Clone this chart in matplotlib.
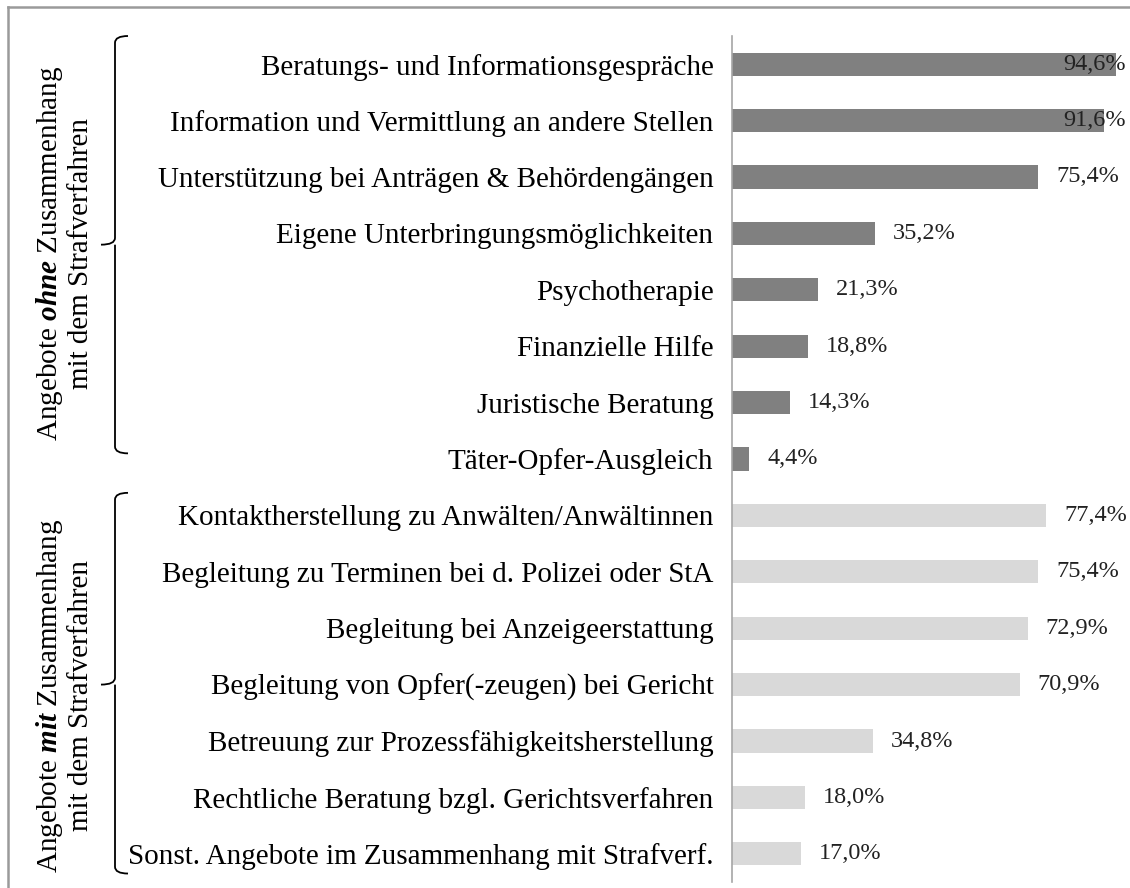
import numpy as np
import matplotlib.pyplot as plt
from matplotlib import transforms
from matplotlib.lines import Line2D
from matplotlib.path import Path
from matplotlib.patches import PathPatch

categories = [
    "Beratungs- und Informationsgespräche",
    "Information und Vermittlung an andere Stellen",
    "Unterstützung bei Anträgen & Behördengängen",
    "Eigene Unterbringungsmöglichkeiten",
    "Psychotherapie",
    "Finanzielle Hilfe",
    "Juristische Beratung",
    "Täter-Opfer-Ausgleich",
    "Kontaktherstellung zu Anwälten/Anwältinnen",
    "Begleitung zu Terminen bei d. Polizei oder StA",
    "Begleitung bei Anzeigeerstattung",
    "Begleitung von Opfer(-zeugen) bei Gericht",
    "Betreuung zur Prozessfähigkeitsherstellung",
    "Rechtliche Beratung bzgl. Gerichtsverfahren",
    "Sonst. Angebote im Zusammenhang mit Strafverf.",
]
values = [94.6, 91.6, 75.4, 35.2, 21.3, 18.8, 14.3, 4.4,
          77.4, 75.4, 72.9, 70.9, 34.8, 18.0, 17.0]
groups = [0] * 8 + [1] * 7
group_labels = [
    "Angebote $\\mathbfit{ohne}$ Zusammenhang\nmit dem Strafverfahren",
    "Angebote $\\mathbfit{mit}$ Zusammenhang\nmit dem Strafverfahren",
]
group_colors = ["#808080", "#d9d9d9"]

plt.rcParams["font.family"] = ["Liberation Serif", "DejaVu Serif"]
plt.rcParams["mathtext.fontset"] = "custom"
plt.rcParams["mathtext.rm"] = "Liberation Serif"
plt.rcParams["mathtext.it"] = "Liberation Serif:italic"
plt.rcParams["mathtext.bf"] = "Liberation Serif:bold"
plt.rcParams["mathtext.bfit"] = "Liberation Serif:italic:bold"

W, H = 1130, 888
fig = plt.figure(figsize=(W / 100, H / 100), dpi=100)
ax = fig.add_axes([731.5 / W, 6 / H, (W - 731.5) / W, (882 - 36) / H])

y = np.arange(len(categories))
colors = [group_colors[g] for g in groups]
ax.barh(y, values, height=0.41, color=colors)
ax.set_ylim(len(categories) - 0.5, -0.5)
ax.set_xlim(0, 98)

ax.set_yticks(y)
ax.set_yticklabels(categories, fontsize=21)
ax.tick_params(axis="y", length=0, pad=13)
ax.set_xticks([])
for s in ["top", "right", "bottom"]:
    ax.spines[s].set_visible(False)
ax.spines["left"].set_color("#a6a6a6")
ax.spines["left"].set_linewidth(1.2)

for yi, v in zip(y, values):
    txt = f"{v:.1f}%".replace(".", ",")
    if v > 90:
        ax.text(96.9, yi, txt, ha="right", va="center", fontsize=17.5, color="#222222")
    else:
        ax.text(v + 4.4, yi, txt, ha="left", va="center", fontsize=17.5, color="#222222")

# braces and group labels (x in figure fraction, y in data rows)
tr = transforms.blended_transform_factory(fig.transFigure, ax.transData)


def brace(y0, y1, ym):
    xv, xr, xl = 115 / W, 128 / W, 101 / W
    r = 0.12
    verts = [
        (xr, y0), (xv, y0), (xv, y0 + r),
        (xv, ym - r), (xv, ym), (xl, ym),
        (xv, ym), (xv, ym + r),
        (xv, y1 - r), (xv, y1), (xr, y1),
    ]
    codes = [Path.MOVETO, Path.CURVE3, Path.CURVE3,
             Path.LINETO, Path.CURVE3, Path.CURVE3,
             Path.MOVETO, Path.LINETO,
             Path.LINETO, Path.CURVE3, Path.CURVE3]
    p = PathPatch(Path(verts, codes), transform=tr, fill=False, lw=1.3,
                  color="black", clip_on=False)
    fig.add_artist(p)


brace(-0.5, 6.9, 3.2)
brace(7.6, 14.35, 11.0)

fig.text(64 / W, 3.35, group_labels[0], transform=tr, rotation=90,
         ha="center", va="center", multialignment="center", fontsize=21,
         linespacing=1.15)
fig.text(64 / W, 11.2, group_labels[1], transform=tr, rotation=90,
         ha="center", va="center", multialignment="center", fontsize=21,
         linespacing=1.15)

# outer frame (top and left edge visible)
fig.add_artist(Line2D([8 / W, 1], [1 - 7 / H, 1 - 7 / H], transform=fig.transFigure,
                      color="#9a9a9a", lw=1.8))
fig.add_artist(Line2D([8 / W, 8 / W], [0, 1 - 7 / H], transform=fig.transFigure,
                      color="#9a9a9a", lw=1.8))

fig.savefig("out.png", dpi=100)
